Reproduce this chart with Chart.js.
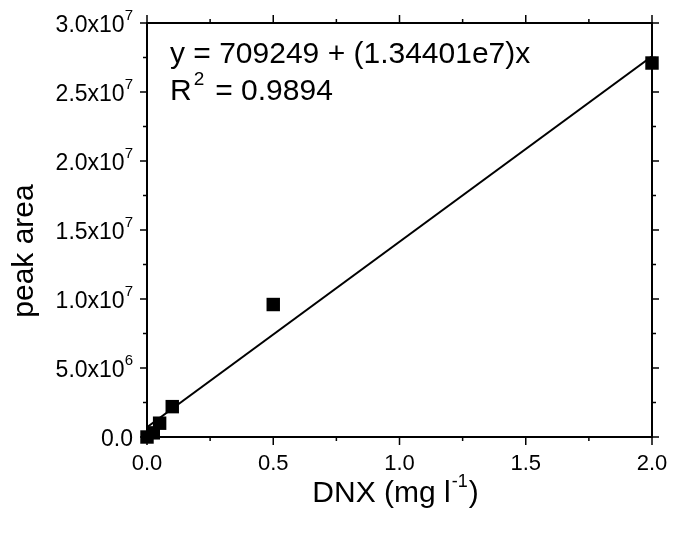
<!DOCTYPE html>
<html>
<head>
<meta charset="utf-8">
<script src="https://cdn.jsdelivr.net/npm/chart.js@4.4.0/dist/chart.umd.min.js"></script>
<style>
  html, body { margin: 0; padding: 0; background: #fff; }
</style>
</head>
<body>
<canvas id="calib" width="673" height="536"></canvas>
<script>
// calibration points
const dnx = [0, 0.025, 0.05, 0.1, 0.5, 2.0];
const peakArea = [0.0e6, 0.3e6, 1.0e6, 2.2e6, 9.6e6, 27.1e6];

// fitted line y = 709249 + 1.34401e7 x, at both ends of the range
const fitX = [0, 2.0];
const fitY = [709249, 27589449];

const xTicks = [0, 0.5, 1.0, 1.5, 2.0];
const xTickLabels = ['0.0', '0.5', '1.0', '1.5', '2.0'];
const xMinor = [0.25, 0.75, 1.25, 1.75];

const yTicks = [0, 5e6, 1e7, 1.5e7, 2e7, 2.5e7, 3e7];
const yTickBase = ['0.0', '5.0x10', '1.0x10', '1.5x10', '2.0x10', '2.5x10', '3.0x10'];
const yTickExp = ['', '6', '7', '7', '7', '7', '7'];
const yMinor = [2.5e6, 7.5e6, 1.25e7, 1.75e7, 2.25e7, 2.75e7];

const FAMILY = '"Liberation Sans", Arial, Helvetica, sans-serif';
const font = px => px + 'px ' + FAMILY;

// box frame with outward ticks on all four sides
const frame = {
  id: 'frame',
  beforeDatasetsDraw(chart) {
    const { ctx, chartArea: a, scales: { x, y } } = chart;
    ctx.save();
    ctx.strokeStyle = '#000';
    ctx.lineWidth = 2;
    ctx.strokeRect(a.left, a.top, a.right - a.left, a.bottom - a.top);
    ctx.lineWidth = 1.5;
    ctx.beginPath();
    const xt = (v, len) => {
      const px = x.getPixelForValue(v);
      ctx.moveTo(px, a.bottom); ctx.lineTo(px, a.bottom + len);
      ctx.moveTo(px, a.top); ctx.lineTo(px, a.top - len);
    };
    const yt = (v, len) => {
      const py = y.getPixelForValue(v);
      ctx.moveTo(a.left, py); ctx.lineTo(a.left - len, py);
      ctx.moveTo(a.right, py); ctx.lineTo(a.right + len, py);
    };
    xTicks.forEach(v => xt(v, 8));
    xMinor.forEach(v => xt(v, 4));
    yTicks.forEach(v => yt(v, 7));
    yMinor.forEach(v => yt(v, 4));
    ctx.stroke();
    ctx.restore();
  },
  afterDraw(chart) {
    const { ctx, chartArea: a, scales: { x, y } } = chart;
    ctx.save();
    ctx.fillStyle = '#000';
    ctx.textBaseline = 'alphabetic';

    // x tick labels
    ctx.font = font(22);
    ctx.textAlign = 'center';
    xTicks.forEach((v, i) => ctx.fillText(xTickLabels[i], x.getPixelForValue(v), a.bottom + 33));

    // y tick labels, mantissa x10 with superscript exponent
    ctx.textAlign = 'right';
    yTicks.forEach((v, i) => {
      const py = y.getPixelForValue(v);
      let right = a.left - 14;
      if (yTickExp[i]) {
        ctx.font = font(15);
        ctx.fillText(yTickExp[i], right, py - 3);
        right -= ctx.measureText(yTickExp[i]).width;
      }
      ctx.font = font(23);
      ctx.fillText(yTickBase[i], right, py + 8.5);
    });

    // x axis title: DNX (mg l^-1)
    ctx.textAlign = 'left';
    const p1 = 'DNX (mg l', sup = '-1', p2 = ')';
    ctx.font = font(30); const w1 = ctx.measureText(p1).width; const w3 = ctx.measureText(p2).width;
    ctx.font = font(18); const w2 = ctx.measureText(sup).width;
    let tx = (a.left + a.right) / 2 - 4 - (w1 + w2 + w3 + 2) / 2;
    ctx.font = font(30); ctx.fillText(p1, tx, a.bottom + 65);
    tx += w1 + 1;
    ctx.font = font(18); ctx.fillText(sup, tx, a.bottom + 50);
    tx += w2 + 1;
    ctx.font = font(30); ctx.fillText(p2, tx, a.bottom + 65);

    // y axis title
    ctx.save();
    ctx.translate(33, (a.top + a.bottom) / 2 + 21);
    ctx.rotate(-Math.PI / 2);
    ctx.textAlign = 'center';
    ctx.font = font(30);
    ctx.fillText('peak area', 0, 0);
    ctx.restore();

    // fit equation and R^2
    ctx.textAlign = 'left';
    ctx.font = font(30);
    ctx.fillText('y = 709249 + (1.34401e7)x', a.left + 23, a.top + 40);
    const rx = a.left + 23;
    ctx.fillText('R', rx, a.top + 77);
    const rw = ctx.measureText('R').width;
    ctx.font = font(19);
    ctx.fillText('2', rx + rw + 2, a.top + 62);
    const sw = ctx.measureText('2').width;
    ctx.font = font(30);
    ctx.fillText('= 0.9894', rx + rw + 2 + sw + 11, a.top + 77);
    ctx.restore();
  }
};

new Chart(document.getElementById('calib'), {
  type: 'scatter',
  data: {
    datasets: [
      {
        label: 'DNX',
        data: dnx.map((v, i) => ({ x: v, y: peakArea[i] })),
        pointStyle: 'rect',
        pointRadius: 9.5,
        pointHoverRadius: 9.5,
        backgroundColor: '#000',
        borderColor: '#000',
        borderWidth: 0,
        clip: false,
        order: 0
      },
      {
        type: 'line',
        label: 'fit',
        data: fitX.map((v, i) => ({ x: v, y: fitY[i] })),
        borderColor: '#000',
        borderWidth: 2,
        pointRadius: 0,
        fill: false,
        order: 1
      }
    ]
  },
  options: {
    responsive: false,
    animation: false,
    layout: { padding: { left: 147, right: 21, top: 23, bottom: 99 } },
    scales: {
      x: { type: 'linear', min: 0, max: 2, display: false },
      y: { type: 'linear', min: 0, max: 3e7, display: false }
    },
    plugins: {
      legend: { display: false },
      tooltip: { enabled: false }
    }
  },
  plugins: [frame]
});
</script>
</body>
</html>
